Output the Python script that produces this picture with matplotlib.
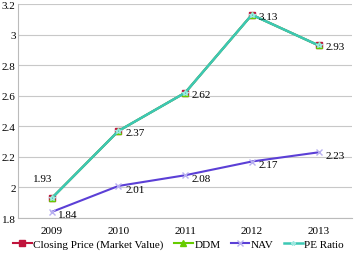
import matplotlib.pyplot as plt

years = ["2009", "2010", "2011", "2012", "2013"]
closing = [1.93, 2.37, 2.62, 3.13, 2.93]
ddm = [1.93, 2.37, 2.62, 3.13, 2.93]
nav = [1.84, 2.01, 2.08, 2.17, 2.23]
pe = [1.93, 2.37, 2.62, 3.13, 2.93]

plt.rcParams['font.family'] = ['Liberation Serif', 'DejaVu Serif']

fig = plt.figure(figsize=(3.54, 2.55), dpi=100)
ax = fig.add_axes([0.052, 0.141, 0.942, 0.839])
x = range(len(years))

ax.plot(x, closing, color='#C0143C', marker='s', markersize=5, lw=1.5,
        label='Closing Price (Market Value)')
ax.plot(x, ddm, color='#66CC00', marker='^', markersize=5, lw=1.5, label='DDM')
ax.plot(x, nav, color='#5B3FD6', marker='x', markersize=5, lw=1.5,
        markeredgecolor='#B8B0F0', label='NAV')
ax.plot(x, pe, color='#3CC8B4', marker='*', markersize=4, lw=1.8,
        markeredgecolor='#9EE8E0', label='PE Ratio')

# data labels
for i, v in enumerate(pe):
    if i == 0:
        ax.text(i - 0.28, v + 0.13, f"{v:.2f}", fontsize=8, va='center')
    else:
        ax.text(i + 0.1, v - 0.01, f"{v:.2f}", fontsize=8, va='center')
for i, v in enumerate(nav):
    ax.text(i + 0.1, v - 0.02, f"{v:.2f}", fontsize=8, va='center')

ax.set_xlim(-0.5, 4.5)
ax.set_ylim(1.8, 3.2)
ax.set_xticks(list(x))
ax.set_xticklabels(years)
ax.set_yticks([1.8, 2, 2.2, 2.4, 2.6, 2.8, 3, 3.2])
ax.set_yticklabels(["1.8", "2", "2.2", "2.4", "2.6", "2.8", "3", "3.2"])
ax.tick_params(length=0, labelsize=8, pad=2)
ax.tick_params(axis='x', pad=6)
ax.grid(axis='y', color='#C8C8C8', lw=0.8)
ax.set_axisbelow(True)
for s in ['top', 'right']:
    ax.spines[s].set_visible(False)
for s in ['left', 'bottom']:
    ax.spines[s].set_color('#BBBBBB')

ax.legend(loc='upper center', bbox_to_anchor=(0.48, -0.1), ncol=4, frameon=False,
          fontsize=8, handlelength=1.7, handletextpad=0.15, columnspacing=0.9,
          borderaxespad=0, borderpad=0, markerscale=0.8)

fig.savefig('out.png', dpi=100)
